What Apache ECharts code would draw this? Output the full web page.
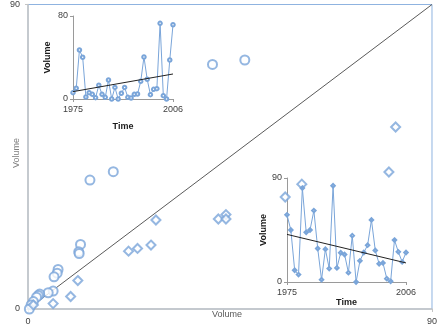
<!DOCTYPE html>
<html><head><meta charset="utf-8">
<script src="https://cdn.jsdelivr.net/npm/echarts@6/dist/echarts.min.js"></script>
<style>html,body{margin:0;padding:0;background:#fff}#c{width:440px;height:329px}</style>
</head><body><div id="c"></div>
<script>
// Main scatter: circles
const circleX = [41.1, 48.3, 19.0, 13.8, 11.7, 11.3, 11.4, 6.7, 6.5, 5.8, 5.6, 4.5, 2.6, 2.3, 1.9, 1.2, 0.7, 0.3];
const circleY = [72.3, 73.6, 40.6, 38.1, 19.1, 16.9, 16.4, 11.7, 10.6, 9.5, 5.3, 4.8, 4.4, 4.0, 3.5, 2.2, 1.2, 0.0];
// Main scatter: diamonds
const diamondX = [81.9, 80.4, 57.3, 61.0, 42.4, 44.1, 44.1, 28.5, 27.4, 24.4, 22.4, 11.1, 9.5, 5.6, 1.2];
const diamondY = [53.8, 40.5, 33.1, 36.9, 26.6, 27.9, 26.6, 26.3, 18.9, 17.9, 17.1, 8.4, 3.7, 1.6, 1.2];
// 1:1 line
const diagX = [0, 90];
const diagY = [0, 90];
// Inset time series
const years = ['1975','1976','1977','1978','1979','1980','1981','1982','1983','1984','1985','1986','1987','1988','1989','1990','1991','1992','1993','1994','1995','1996','1997','1998','1999','2000','2001','2002','2003','2004','2005','2006'];
const insetA = [6.1, 10.3, 47.2, 40.2, 1.9, 6.1, 4.5, 1.3, 13.2, 4.5, 1.6, 18.3, 0, 11.2, 0, 5.5, 11.2, 1.6, 1.0, 4.5, 4.8, 17.0, 40.5, 19.0, 4.2, 9.3, 10.0, 72.9, 3.2, 0, 37.6, 71.6];
const insetATrend = [7.1, 24.1];
const insetB = [58.1, 45.0, 10.2, 6.4, 81.3, 43.0, 45.0, 61.8, 29.0, 2.0, 28.4, 11.6, 83.3, 12.2, 25.3, 23.8, 8.1, 40.1, 0, 18.3, 25.5, 31.9, 53.7, 27.3, 15.7, 16.5, 2.9, 0.6, 36.3, 26.1, 17.4, 25.5];
const insetBTrend = [41.2, 16.5];
const mainTicks = [0, 90];

const FONT = 'Liberation Sans';
const BLUE = '#7aa5d9';
const endsOnly = (i) => i === 0 || i === years.length - 1;

const chart = echarts.init(document.getElementById('c'), null, {renderer: 'canvas'});
const zip = (a, b) => a.map((v, i) => [v, b[i]]);

const insetXAxis = (gi, nameGap) => ({
  type: 'category', gridIndex: gi, data: years, boundaryGap: false,
  axisLine: {show: true, lineStyle: {color: '#9a9a9a', width: 1}},
  axisTick: {show: true, interval: endsOnly, length: 3, lineStyle: {color: '#9a9a9a'}},
  axisLabel: {interval: endsOnly, fontFamily: FONT, fontSize: 9, color: '#404040', margin: 6},
  splitLine: {show: false},
  name: 'Time', nameLocation: 'middle', nameGap: nameGap,
  nameTextStyle: {fontFamily: FONT, fontSize: 9, fontWeight: 'bold', color: '#1a1a1a'}
});
const insetYAxis = (gi, max, nameGap) => ({
  type: 'value', gridIndex: gi, min: 0, max: max, interval: max,
  axisLine: {show: true, lineStyle: {color: '#9a9a9a', width: 1}},
  axisTick: {show: true, length: 3, lineStyle: {color: '#9a9a9a'}},
  axisLabel: {fontFamily: FONT, fontSize: 9, color: '#404040', margin: 5},
  splitLine: {show: false},
  name: 'Volume', nameLocation: 'middle', nameGap: nameGap, nameRotate: 90,
  nameTextStyle: {fontFamily: FONT, fontSize: 9, fontWeight: 'bold', color: '#1a1a1a'}
});

chart.setOption({
  animation: false,
  backgroundColor: '#ffffff',
  grid: [
    {left: 28, top: 4, width: 409, height: 305, show: true, borderColor: '#8fb3e0', borderWidth: 1, backgroundColor: 'transparent'},
    {left: 73, top: 16, width: 100, height: 83},
    {left: 287, top: 178, width: 119, height: 104}
  ],
  xAxis: [
    {type: 'value', gridIndex: 0, min: mainTicks[0], max: mainTicks[1], interval: 90,
     axisLine: {show: true, lineStyle: {color: '#c4c4c4', width: 1.5}},
     axisTick: {show: true, length: 3, lineStyle: {color: '#c4c4c4'}},
     axisLabel: {fontFamily: FONT, fontSize: 9, color: '#404040', margin: 8},
     splitLine: {show: false}},
    insetXAxis(1, 23),
    insetXAxis(2, 13)
  ],
  yAxis: [
    {type: 'value', gridIndex: 0, min: mainTicks[0], max: mainTicks[1], interval: 90,
     axisLine: {show: true, lineStyle: {color: '#c4c4c4', width: 1.5}},
     axisTick: {show: true, length: 3, lineStyle: {color: '#c4c4c4'}},
     axisLabel: {fontFamily: FONT, fontSize: 9, color: '#404040', margin: 8},
     splitLine: {show: false}},
    insetYAxis(1, 80, 21),
    insetYAxis(2, 90, 7)
  ],
  graphic: [
    {type: 'text', left: 212, top: 310, style: {text: 'Volume', fontFamily: FONT, fontSize: 9, fill: '#595959'}},
    {type: 'text', x: 12, y: 168, rotation: Math.PI / 2, style: {text: 'Volume', fontFamily: FONT, fontSize: 9, fill: '#7f7f7f'}}
  ],
  series: [
    {type: 'line', xAxisIndex: 0, yAxisIndex: 0, data: zip(diagX, diagY), symbol: 'none',
     lineStyle: {color: '#5a5a5a', width: 1}, z: 2},
    {type: 'scatter', xAxisIndex: 0, yAxisIndex: 0, data: zip(circleX, circleY), symbol: 'emptyCircle', symbolSize: 9,
     itemStyle: {color: BLUE, borderWidth: 1}, z: 3},
    {type: 'scatter', xAxisIndex: 0, yAxisIndex: 0, data: zip(diamondX, diamondY), symbol: 'emptyDiamond', symbolSize: 9,
     itemStyle: {color: BLUE, borderWidth: 1}, z: 3},
    {type: 'line', xAxisIndex: 1, yAxisIndex: 1, data: insetA, symbol: 'emptyCircle', symbolSize: 3.5, showAllSymbol: true,
     lineStyle: {color: BLUE, width: 1}, itemStyle: {color: BLUE, borderWidth: 0.8}, z: 4},
    {type: 'line', xAxisIndex: 1, yAxisIndex: 1, data: [[years[0], insetATrend[0]], [years[years.length - 1], insetATrend[1]]], symbol: 'none',
     lineStyle: {color: '#222', width: 1}, z: 5},
    {type: 'line', xAxisIndex: 2, yAxisIndex: 2, data: insetB, symbol: 'emptyDiamond', symbolSize: 3.5, showAllSymbol: true,
     lineStyle: {color: BLUE, width: 1}, itemStyle: {color: BLUE, borderWidth: 0.8}, z: 4},
    {type: 'line', xAxisIndex: 2, yAxisIndex: 2, data: [[years[0], insetBTrend[0]], [years[years.length - 1], insetBTrend[1]]], symbol: 'none',
     lineStyle: {color: '#222', width: 1}, z: 5}
  ]
});
</script></body></html>
